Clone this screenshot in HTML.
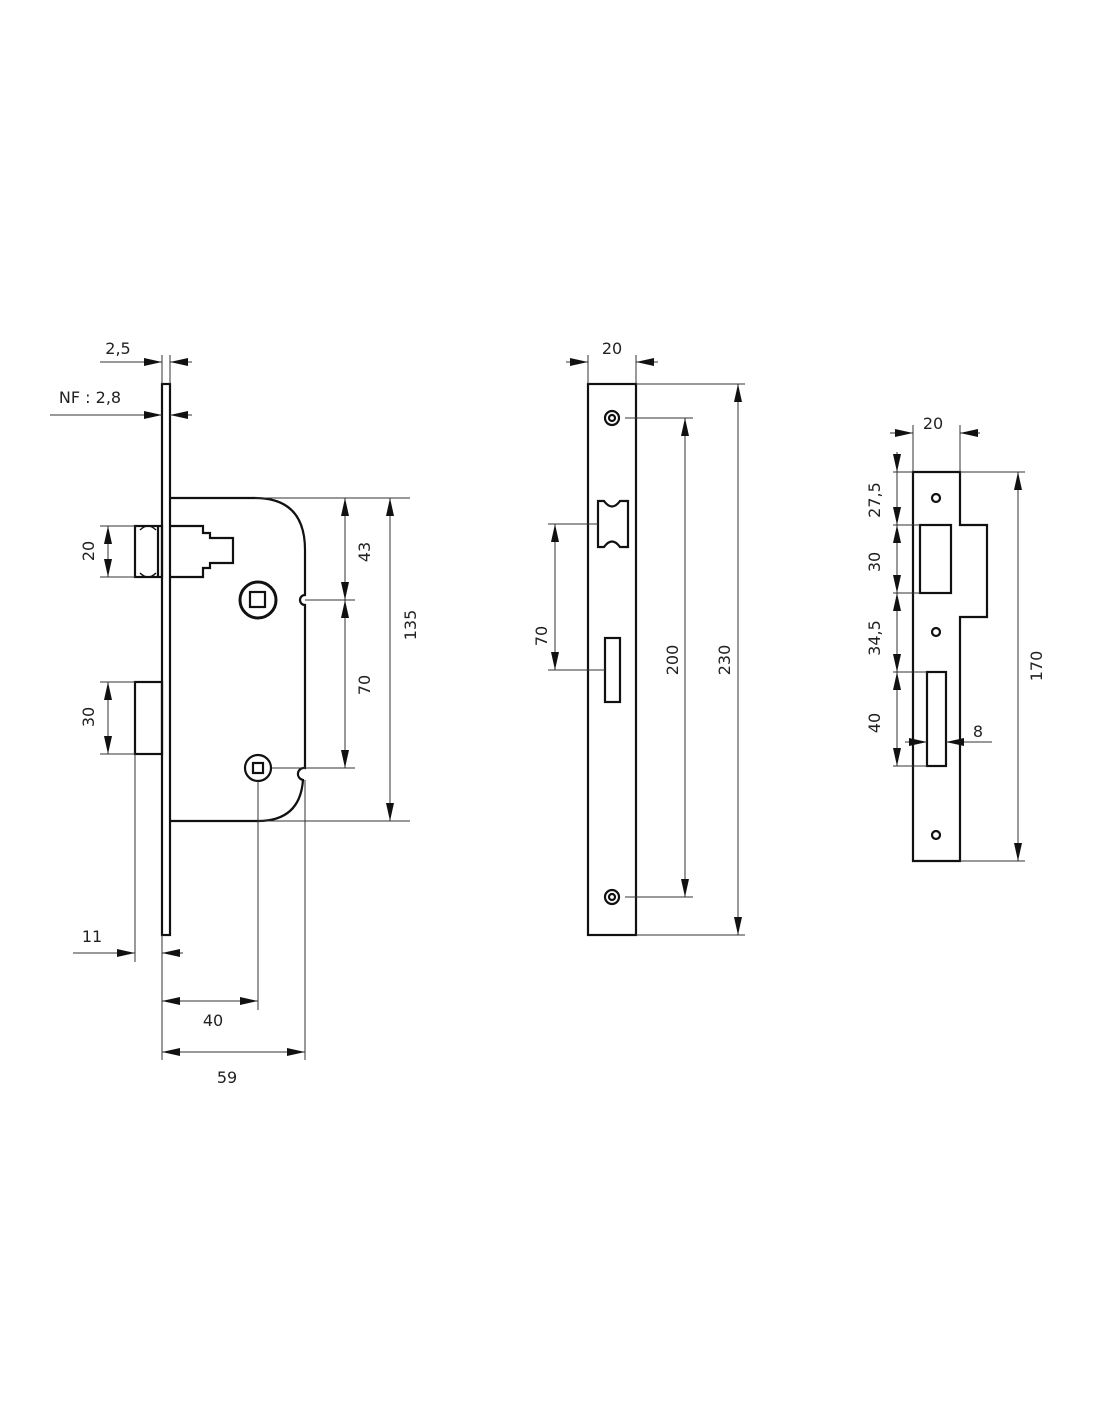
<!DOCTYPE html>
<html><head><meta charset="utf-8"><style>
body{margin:0;background:#fff}
svg{display:block}
text{font-family:"DejaVu Sans","Liberation Sans",sans-serif;font-size:16px;fill:#222}
</style></head><body>
<svg width="1100" height="1422" viewBox="0 0 1100 1422" xmlns="http://www.w3.org/2000/svg">
<defs>
<marker id="a" viewBox="0 0 18 8" refX="18" refY="4" markerWidth="18" markerHeight="8" markerUnits="userSpaceOnUse" orient="auto-start-reverse"><path d="M0,0L18,4L0,8z" fill="#111"/></marker>
</defs>
<g fill="none" stroke="#111" stroke-width="2.2">
<!-- left lock -->
<rect x="162" y="384" width="8" height="551"/>
<path d="M170,498 H255 Q305,498 305,550 V595 A5,5 0 0 0 305,605 V768 A6,6 0 0 0 303,780 Q300,821 258,821 H170"/>
<rect x="135" y="526" width="27" height="51"/>
<line x1="158" y1="526" x2="158" y2="577"/>
<path d="M140,530 Q148,522 156,530 M140,573 Q148,581 156,573" stroke-width="1.5"/>
<path d="M170,526 H203 V533 H210 V538 H233 V563 H210 V568 H203 V577 H170"/>
<rect x="135" y="682" width="27" height="72"/>
<circle cx="258" cy="600" r="18" stroke-width="3"/>
<rect x="250" y="592" width="15" height="15"/>
<circle cx="258" cy="768" r="13"/>
<rect x="253" y="763" width="10" height="10"/>
<!-- middle -->
<rect x="588" y="384" width="48" height="551"/>
<circle cx="612" cy="418" r="7"/><circle cx="612" cy="418" r="3"/>
<circle cx="612" cy="897" r="7"/><circle cx="612" cy="897" r="3"/>
<path d="M598,501 H604 Q612,512 620,501 H628 V547 H620 Q612,536 604,547 H598 Z"/>
<rect x="605" y="638" width="15" height="64"/>
<!-- right -->
<path d="M913,472 H960 V525 H987 V617 H960 V861 H913 Z"/>
<rect x="920" y="525" width="31" height="68"/>
<rect x="927" y="672" width="19" height="94"/>
<circle cx="936" cy="498" r="4"/><circle cx="936" cy="632" r="4"/><circle cx="936" cy="835" r="4"/>
</g>
<g fill="none" stroke="#333" stroke-width="1">
<!-- left dims -->
<line x1="162" y1="355" x2="162" y2="384"/><line x1="170" y1="355" x2="170" y2="384"/>
<line x1="100" y1="362" x2="162" y2="362" marker-end="url(#a)"/>
<line x1="192" y1="362" x2="170" y2="362" marker-end="url(#a)"/>
<line x1="50" y1="415" x2="162" y2="415" marker-end="url(#a)"/>
<line x1="192" y1="415" x2="170" y2="415" marker-end="url(#a)"/>
<line x1="255" y1="498" x2="410" y2="498"/>
<line x1="305" y1="600" x2="355" y2="600"/>
<line x1="272" y1="768" x2="355" y2="768"/>
<line x1="258" y1="821" x2="410" y2="821"/>
<line x1="345" y1="498" x2="345" y2="600" marker-start="url(#a)" marker-end="url(#a)"/>
<line x1="345" y1="600" x2="345" y2="768" marker-start="url(#a)" marker-end="url(#a)"/>
<line x1="390" y1="498" x2="390" y2="821" marker-start="url(#a)" marker-end="url(#a)"/>
<line x1="100" y1="526" x2="135" y2="526"/><line x1="100" y1="577" x2="135" y2="577"/>
<line x1="108" y1="526" x2="108" y2="577" marker-start="url(#a)" marker-end="url(#a)"/>
<line x1="100" y1="682" x2="135" y2="682"/><line x1="100" y1="754" x2="135" y2="754"/>
<line x1="108" y1="682" x2="108" y2="754" marker-start="url(#a)" marker-end="url(#a)"/>
<line x1="135" y1="754" x2="135" y2="962"/>
<line x1="162" y1="935" x2="162" y2="1060"/>
<line x1="258" y1="781" x2="258" y2="1010"/>
<line x1="305" y1="780" x2="305" y2="1060"/>
<line x1="73" y1="953" x2="135" y2="953" marker-end="url(#a)"/>
<line x1="183" y1="953" x2="162" y2="953" marker-end="url(#a)"/>
<line x1="162" y1="1001" x2="258" y2="1001" marker-start="url(#a)" marker-end="url(#a)"/>
<line x1="162" y1="1052" x2="305" y2="1052" marker-start="url(#a)" marker-end="url(#a)"/>
<!-- middle dims -->
<line x1="588" y1="355" x2="588" y2="384"/><line x1="636" y1="355" x2="636" y2="384"/>
<line x1="566" y1="362" x2="588" y2="362" marker-end="url(#a)"/>
<line x1="658" y1="362" x2="636" y2="362" marker-end="url(#a)"/>
<line x1="636" y1="384" x2="745" y2="384"/><line x1="636" y1="935" x2="745" y2="935"/>
<line x1="738" y1="384" x2="738" y2="935" marker-start="url(#a)" marker-end="url(#a)"/>
<line x1="625" y1="418" x2="693" y2="418"/><line x1="625" y1="897" x2="693" y2="897"/>
<line x1="685" y1="418" x2="685" y2="897" marker-start="url(#a)" marker-end="url(#a)"/>
<line x1="548" y1="524" x2="598" y2="524"/><line x1="548" y1="670" x2="605" y2="670"/>
<line x1="555" y1="524" x2="555" y2="670" marker-start="url(#a)" marker-end="url(#a)"/>
<!-- right dims -->
<line x1="913" y1="425" x2="913" y2="472"/><line x1="960" y1="425" x2="960" y2="472"/>
<line x1="890" y1="433" x2="913" y2="433" marker-end="url(#a)"/>
<line x1="980" y1="433" x2="960" y2="433" marker-end="url(#a)"/>
<line x1="960" y1="472" x2="1025" y2="472"/><line x1="960" y1="861" x2="1025" y2="861"/>
<line x1="1018" y1="472" x2="1018" y2="861" marker-start="url(#a)" marker-end="url(#a)"/>
<line x1="893" y1="472" x2="913" y2="472"/>
<line x1="893" y1="525" x2="920" y2="525"/><line x1="893" y1="593" x2="920" y2="593"/>
<line x1="893" y1="672" x2="927" y2="672"/><line x1="893" y1="766" x2="927" y2="766"/>
<line x1="897" y1="452" x2="897" y2="472" marker-end="url(#a)"/>
<line x1="897" y1="472" x2="897" y2="525" marker-end="url(#a)"/>
<line x1="897" y1="525" x2="897" y2="593" marker-start="url(#a)" marker-end="url(#a)"/>
<line x1="897" y1="593" x2="897" y2="672" marker-start="url(#a)" marker-end="url(#a)"/>
<line x1="897" y1="672" x2="897" y2="766" marker-start="url(#a)" marker-end="url(#a)"/>
<line x1="905" y1="742" x2="927" y2="742" marker-end="url(#a)"/>
<line x1="992" y1="742" x2="946" y2="742"/>
<line x1="968" y1="742" x2="946" y2="742" marker-end="url(#a)"/>
</g>
<g>
<text x="118" y="354" text-anchor="middle">2,5</text>
<text x="90" y="403" text-anchor="middle">NF : 2,8</text>
<text x="92" y="942" text-anchor="middle">11</text>
<text x="213" y="1026" text-anchor="middle">40</text>
<text x="227" y="1083" text-anchor="middle">59</text>
<text transform="translate(370,552) rotate(-90)" text-anchor="middle">43</text>
<text transform="translate(370,685) rotate(-90)" text-anchor="middle">70</text>
<text transform="translate(416,625) rotate(-90)" text-anchor="middle">135</text>
<text transform="translate(94,551) rotate(-90)" text-anchor="middle">20</text>
<text transform="translate(94,717) rotate(-90)" text-anchor="middle">30</text>
<text x="612" y="354" text-anchor="middle">20</text>
<text transform="translate(547,636) rotate(-90)" text-anchor="middle">70</text>
<text transform="translate(678,660) rotate(-90)" text-anchor="middle">200</text>
<text transform="translate(730,660) rotate(-90)" text-anchor="middle">230</text>
<text x="933" y="429" text-anchor="middle">20</text>
<text transform="translate(880,500) rotate(-90)" text-anchor="middle">27,5</text>
<text transform="translate(880,562) rotate(-90)" text-anchor="middle">30</text>
<text transform="translate(880,638) rotate(-90)" text-anchor="middle">34,5</text>
<text transform="translate(880,723) rotate(-90)" text-anchor="middle">40</text>
<text transform="translate(1042,666) rotate(-90)" text-anchor="middle">170</text>
<text x="978" y="737" text-anchor="middle">8</text>
</g>
</svg>
</body></html>
